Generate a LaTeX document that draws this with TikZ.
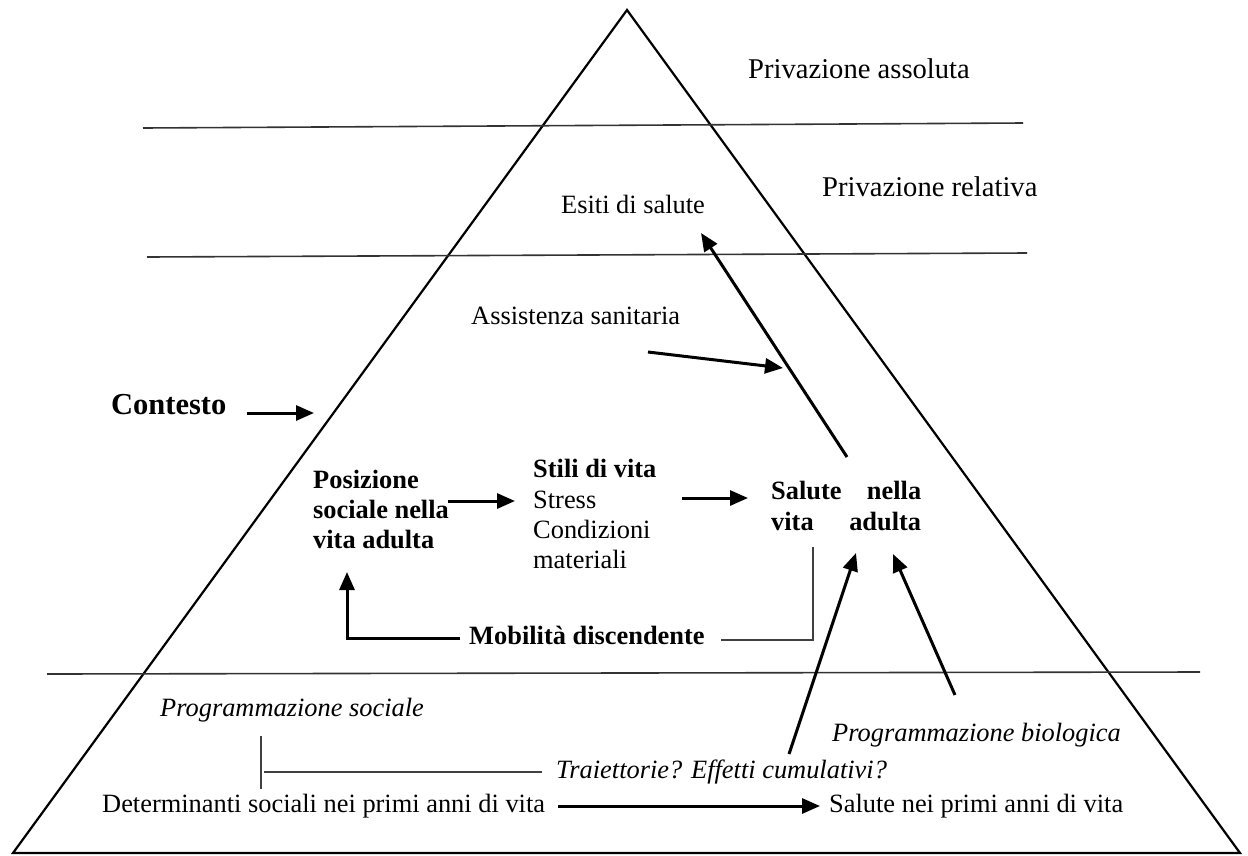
\documentclass[tikz,border=0pt]{standalone}
\usepackage{fontspec}
\setmainfont{Liberation Serif}
\usetikzlibrary{arrows.meta}
\begin{document}
\begin{tikzpicture}[x=1pt,y=-1pt,
  lbl/.style={anchor=west,inner sep=0pt,text height=18pt,text depth=6pt,
    font=\fontsize{26.4}{30}\selectfont},
  blbl/.style={lbl,font=\fontsize{26.4}{30}\selectfont\bfseries},
  ilbl/.style={lbl,font=\fontsize{26.4}{30}\selectfont\itshape},
  biglbl/.style={lbl,font=\fontsize{28.6}{32}\selectfont},
  pyramid/.style={line width=2.2pt,line join=miter},
  band/.style={line width=1.6pt,draw=black!80},
  guide/.style={line width=1.5pt,draw=black!75},
  arr/.style={line width=3pt,-{Triangle[length=18pt,width=15pt]}}
]
\useasboundingbox (0,0) rectangle (1248,855);

% pyramid outline and the three levels
\draw[pyramid] (627,10) -- (1240,853) -- (13,853) -- cycle;
\draw[band] (143,128) -- (1023,123);
\draw[band] (147,257) -- (1027,253);
\draw[band] (47,674) -- (1200,672);

% level names
\node[biglbl] (abs) at (748,72) {Privazione assoluta};
\node[biglbl] (rel) at (822,190) {Privazione relativa};

% upper labels
\node[lbl] (esiti) at (561,207) {Esiti di salute};
\node[lbl] (assist) at (471,318) {Assistenza sanitaria};
\node[lbl,font=\fontsize{30.5}{34}\selectfont\bfseries] (contesto) at (111,408) {Contesto};

% adult life
\node[blbl] (pos1) at (313,482) {Posizione};
\node[blbl] (pos2) at (313,512) {sociale nella};
\node[blbl] (pos3) at (313,542) {vita adulta};
\node[blbl] (stili) at (533,471) {Stili di vita};
\node[lbl] (stress) at (533,502) {Stress};
\node[lbl] (cond) at (533,532) {Condizioni};
\node[lbl] (mat) at (533,562) {materiali};
\node[blbl] (sal1) at (771,493) {\makebox[150pt][s]{Salute nella}};
\node[blbl] (sal2) at (771,524) {\makebox[150pt][s]{vita adulta}};
\node[blbl] (mob) at (469,638) {Mobilità discendente};

% early life
\node[ilbl] (psoc) at (160,710) {Programmazione sociale};
\node[ilbl] (pbio) at (832,735) {Programmazione biologica};
\node[ilbl] (traj) at (556,772) {Traiettorie? Effetti cumulativi?};
\node[lbl] (det) at (102,806) {Determinanti sociali nei primi anni di vita};
\node[lbl] (salp) at (829,806) {Salute nei primi anni di vita};

% connector end points
\coordinate (ctxE) at (314,413);
\coordinate (posE) at (448,501);
\coordinate (stiliW) at (515,501);
\coordinate (stiliE) at (682,498);
\coordinate (salW) at (748,498);
\coordinate (salN) at (847,457);
\coordinate (esitiS) at (701,233);
\coordinate (assistE) at (783,368);
\coordinate (mobW) at (460,638);
\coordinate (posS) at (347,572);
\coordinate (mobE) at (721,640);
\coordinate (salS) at (813,547);
\coordinate (trajN) at (789,754);
\coordinate (salS1) at (856,553);
\coordinate (pbioN) at (955,695);
\coordinate (salS2) at (893,554);
\coordinate (detE) at (558,806);
\coordinate (salpW) at (820,806);
\coordinate (psocS) at (261,736);
\coordinate (detN) at (261,789);
\coordinate (trajW) at (264,772);
\coordinate (trajL) at (542,772);

% arrows
\draw[arr] (contesto.east |- ctxE) ++(20,0) -- (ctxE);
\draw[arr] (posE) -- (stiliW);
\draw[arr] (stiliE) -- (salW);
\draw[arr] (salN) -- (esitiS);
\draw[arr] (648,352) -- (assistE);
\draw[arr,line join=miter] (mobW) -- (posS |- mobW) -- (posS);
\draw[guide] (mobE) -- (salS |- mobE) -- (salS);
\draw[arr] (trajN) -- (salS1);
\draw[arr] (pbioN) -- (salS2);
\draw[arr] (detE) -- (salpW);
\draw[guide] (psocS) -- (detN);
\draw[guide] (trajW) -- (trajL);
\end{tikzpicture}
\end{document}
